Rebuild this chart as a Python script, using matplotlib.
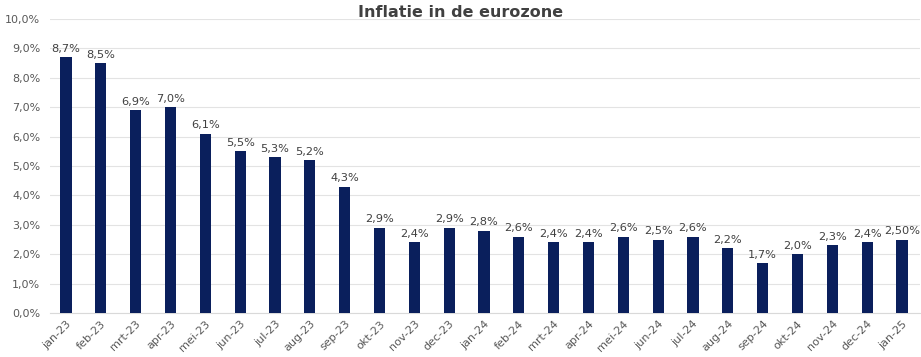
import matplotlib
matplotlib.use("Agg")
import matplotlib.pyplot as plt
from matplotlib.ticker import FuncFormatter

months = ["jan-23", "feb-23", "mrt-23", "apr-23", "mei-23", "jun-23", "jul-23", "aug-23",
          "sep-23", "okt-23", "nov-23", "dec-23", "jan-24", "feb-24", "mrt-24", "apr-24",
          "mei-24", "jun-24", "jul-24", "aug-24", "sep-24", "okt-24", "nov-24", "dec-24", "jan-25"]
inflation = [8.7, 8.5, 6.9, 7.0, 6.1, 5.5, 5.3, 5.2, 4.3, 2.9, 2.4, 2.9, 2.8, 2.6, 2.4, 2.4,
             2.6, 2.5, 2.6, 2.2, 1.7, 2.0, 2.3, 2.4, 2.5]
bar_labels = ["8,7%", "8,5%", "6,9%", "7,0%", "6,1%", "5,5%", "5,3%", "5,2%", "4,3%", "2,9%",
              "2,4%", "2,9%", "2,8%", "2,6%", "2,4%", "2,4%", "2,6%", "2,5%", "2,6%", "2,2%",
              "1,7%", "2,0%", "2,3%", "2,4%", "2,50%"]
title = "Inflatie in de eurozone"

fig = plt.figure(figsize=(9.21, 3.57), dpi=100)
ax = fig.add_axes([0.0543, 0.1232, 0.9447, 0.8236])

x = list(range(len(months)))
bars = ax.bar(x, inflation, width=0.32, color="#0a1f5c", zorder=3)
for xi, v, lab in zip(x, inflation, bar_labels):
    ax.annotate(lab, (xi, v), xytext=(0, 2.5), textcoords="offset points",
                ha="center", va="bottom", fontsize=8.2, color="#404040")

ax.set_ylim(0, 10)
ax.set_xlim(-0.46, 24.52)
ax.set_yticks([i for i in range(11)])
ax.yaxis.set_major_formatter(FuncFormatter(lambda v, p: f"{v:.1f}%".replace(".", ",")))
ax.grid(axis="y", color="#e3e3e3", linewidth=0.8, zorder=0)
for s in ["top", "right", "left"]:
    ax.spines[s].set_visible(False)
ax.spines["bottom"].set_color("#d9d9d9")
ax.tick_params(axis="both", length=0, labelsize=8, colors="#595959")
ax.tick_params(axis="y", pad=7)
ax.set_xticks(x)
ax.set_xticklabels(months, rotation=45, ha="right", rotation_mode="anchor")
ax.tick_params(axis="x", pad=4)

fig.text(0.5, 0.965, title, ha="center", va="center", fontsize=11.5, fontweight="bold", color="#404040")

fig.savefig("out.png", dpi=100)
